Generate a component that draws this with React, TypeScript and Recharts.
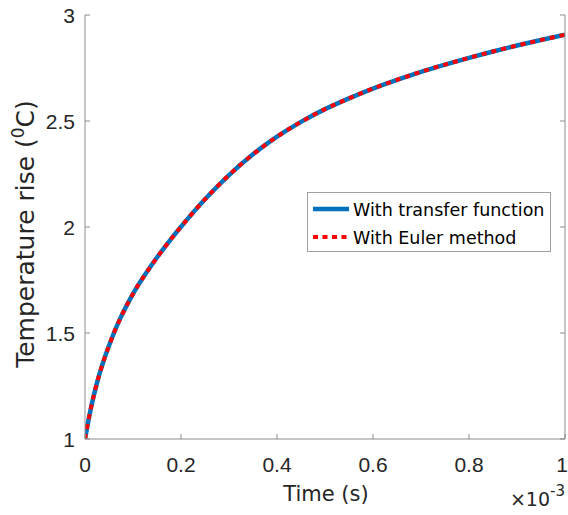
import React from 'react';
import { LineChart, Line, XAxis, YAxis, Legend } from 'recharts';

// time in units of 1e-3 s
const timeMs = [0, 0.0125, 0.025, 0.0375, 0.05, 0.0625, 0.075, 0.0875, 0.1, 0.125, 0.15, 0.175, 0.2, 0.25, 0.3, 0.35, 0.4, 0.45, 0.5, 0.55, 0.6, 0.65, 0.7, 0.75, 0.8, 0.85, 0.9, 0.95, 1.0];
const transferFunction = [1.0, 1.1475, 1.265, 1.36, 1.44, 1.5125, 1.576, 1.6325, 1.685, 1.775, 1.856, 1.931, 2.001, 2.131, 2.245, 2.343, 2.426, 2.496, 2.556, 2.607, 2.653, 2.694, 2.732, 2.766, 2.798, 2.828, 2.856, 2.882, 2.907];
const eulerMethod = [1.0, 1.1475, 1.265, 1.36, 1.44, 1.5125, 1.576, 1.6325, 1.685, 1.775, 1.856, 1.931, 2.001, 2.131, 2.245, 2.343, 2.426, 2.496, 2.556, 2.607, 2.653, 2.694, 2.732, 2.766, 2.798, 2.828, 2.856, 2.882, 2.907];
const seriesNames = ['With transfer function', 'With Euler method'];
const xTicks = [0, 0.2, 0.4, 0.6, 0.8, 1];
const yTicks = [1, 1.5, 2, 2.5, 3];

const data = timeMs.map((t, i) => ({ t, tf: transferFunction[i], euler: eulerMethod[i] }));

const CHART_W = 568;
const TICK_FONT = '"Liberation Sans", Arial, Helvetica, sans-serif';
const TITLE_FONT = '"DejaVu Sans", "Liberation Sans", sans-serif';
const AXIS = '#8c8c8c';
const TEXT = '#262626';
const BLUE = '#0072BD';
const RED = '#FF0000';
const TICK_LEN = 5;

const BottomTick = (props: any) => {
  const { x, y, payload } = props;
  const tx = Math.min(x, CHART_W - 6);
  return (
    <g>
      <line x1={x} y1={y} x2={x} y2={y - TICK_LEN} stroke={AXIS} strokeWidth={1} />
      <text x={tx} y={y + 33} textAnchor="middle" fontSize={21} fontFamily={TICK_FONT} fill={TEXT}>
        {String(payload.value)}
      </text>
    </g>
  );
};

const TopTick = (props: any) => {
  const { x, y } = props;
  return <line x1={x} y1={y} x2={x} y2={y + TICK_LEN} stroke={AXIS} strokeWidth={1} />;
};

const LeftTick = (props: any) => {
  const { x, y, payload } = props;
  return (
    <g>
      <line x1={x} y1={y} x2={x + TICK_LEN} y2={y} stroke={AXIS} strokeWidth={1} />
      <text x={x - 10} y={y + 7.5} textAnchor="end" fontSize={21} fontFamily={TICK_FONT} fill={TEXT}>
        {String(payload.value)}
      </text>
    </g>
  );
};

const RightTick = (props: any) => {
  const { x, y } = props;
  return <line x1={x} y1={y} x2={x - TICK_LEN} y2={y} stroke={AXIS} strokeWidth={1} />;
};

const XTitle = (props: any) => {
  const vb = props.viewBox;
  return (
    <g>
      <text x={vb.x + vb.width / 2 + 1} y={vb.y + 62} textAnchor="middle" fontSize={21} fontFamily={TITLE_FONT} fill={TEXT}>
        Time (s)
      </text>
      <text x={vb.x + vb.width} y={vb.y + 67} textAnchor="end" fontSize={19} fontFamily={TITLE_FONT} fill={TEXT}>
        <tspan>×10</tspan>
        <tspan dy={-10} fontSize={15}>-3</tspan>
      </text>
    </g>
  );
};

const YTitle = (props: any) => {
  const vb = props.viewBox;
  const cx = 34;
  const cy = vb.y + vb.height / 2 + 7;
  return (
    <text x={cx} y={cy} textAnchor="middle" fontSize={25} fontFamily={TITLE_FONT} fill={TEXT} transform={`rotate(-90 ${cx} ${cy})`}>
      <tspan>Temperature rise (</tspan>
      <tspan dy={-10} fontSize={17}>0</tspan>
      <tspan dy={10}>C)</tspan>
    </text>
  );
};

const LegendBox = (props: any) => {
  const payload = [...(props.payload || [])].sort(
    (a: any, b: any) => seriesNames.indexOf(a.value) - seriesNames.indexOf(b.value)
  );
  return (
    <svg width={244} height={60} style={{ display: 'block' }}>
      <rect x={0.5} y={0.5} width={243} height={59} fill="#fff" stroke="#a0a0a0" strokeWidth={1} />
      {payload.map((item: any, i: number) => {
        const cy = 17 + i * 28;
        const dash = item.payload && item.payload.strokeDasharray;
        return (
          <g key={i}>
            <line x1={6} y1={cy} x2={42} y2={cy} stroke={item.color} strokeWidth={dash ? 4 : 4.5} strokeDasharray={dash ? '5 4.5' : undefined} />
            <text x={46} y={cy + 6.5} fontSize={17.5} fontFamily={TITLE_FONT} fill="#000">
              {item.value}
            </text>
          </g>
        );
      })}
    </svg>
  );
};

export default function App() {
  return (
    <div style={{ position: 'absolute', left: 0, top: 0, background: '#fff' }}>
      <LineChart width={CHART_W} height={515} data={data} margin={{ top: 15, right: 0, bottom: 0, left: 0 }}>
        <XAxis
          xAxisId="b"
          dataKey="t"
          type="number"
          domain={[0, 1]}
          ticks={xTicks}
          interval={0}
          allowDataOverflow
          height={76}
          tickSize={0}
          tickMargin={0}
          tickLine={false}
          axisLine={{ stroke: AXIS }}
          tick={<BottomTick />}
          label={<XTitle />}
        />
        <XAxis
          xAxisId="t"
          orientation="top"
          type="number"
          domain={[0, 1]}
          ticks={xTicks}
          interval={0}
          allowDataOverflow
          height={0}
          tickSize={0}
          tickMargin={0}
          tickLine={false}
          axisLine={{ stroke: AXIS }}
          tick={<TopTick />}
        />
        <YAxis
          yAxisId="l"
          type="number"
          domain={[1, 3]}
          ticks={yTicks}
          interval={0}
          allowDataOverflow
          width={85}
          tickSize={0}
          tickMargin={0}
          tickLine={false}
          axisLine={{ stroke: AXIS }}
          tick={<LeftTick />}
          label={<YTitle />}
        />
        <YAxis
          yAxisId="r"
          orientation="right"
          type="number"
          domain={[1, 3]}
          ticks={yTicks}
          interval={0}
          allowDataOverflow
          width={3}
          tickSize={0}
          tickMargin={0}
          tickLine={false}
          axisLine={{ stroke: AXIS }}
          tick={<RightTick />}
        />
        <Legend
          layout="vertical"
          align="center"
          verticalAlign="middle"
          width={244}
          height={60}
          wrapperStyle={{ left: 307, top: 192, width: 244, height: 60 }}
          content={<LegendBox />}
        />
        <Line
          xAxisId="b"
          yAxisId="l"
          name={seriesNames[0]}
          dataKey="tf"
          type="monotoneX"
          stroke={BLUE}
          strokeWidth={4.5}
          dot={false}
          activeDot={false}
          isAnimationActive={false}
        />
        <Line
          xAxisId="b"
          yAxisId="l"
          name={seriesNames[1]}
          dataKey="euler"
          type="monotoneX"
          stroke={RED}
          strokeWidth={4}
          strokeDasharray="5 5"
          dot={false}
          activeDot={false}
          isAnimationActive={false}
        />
      </LineChart>
    </div>
  );
}
